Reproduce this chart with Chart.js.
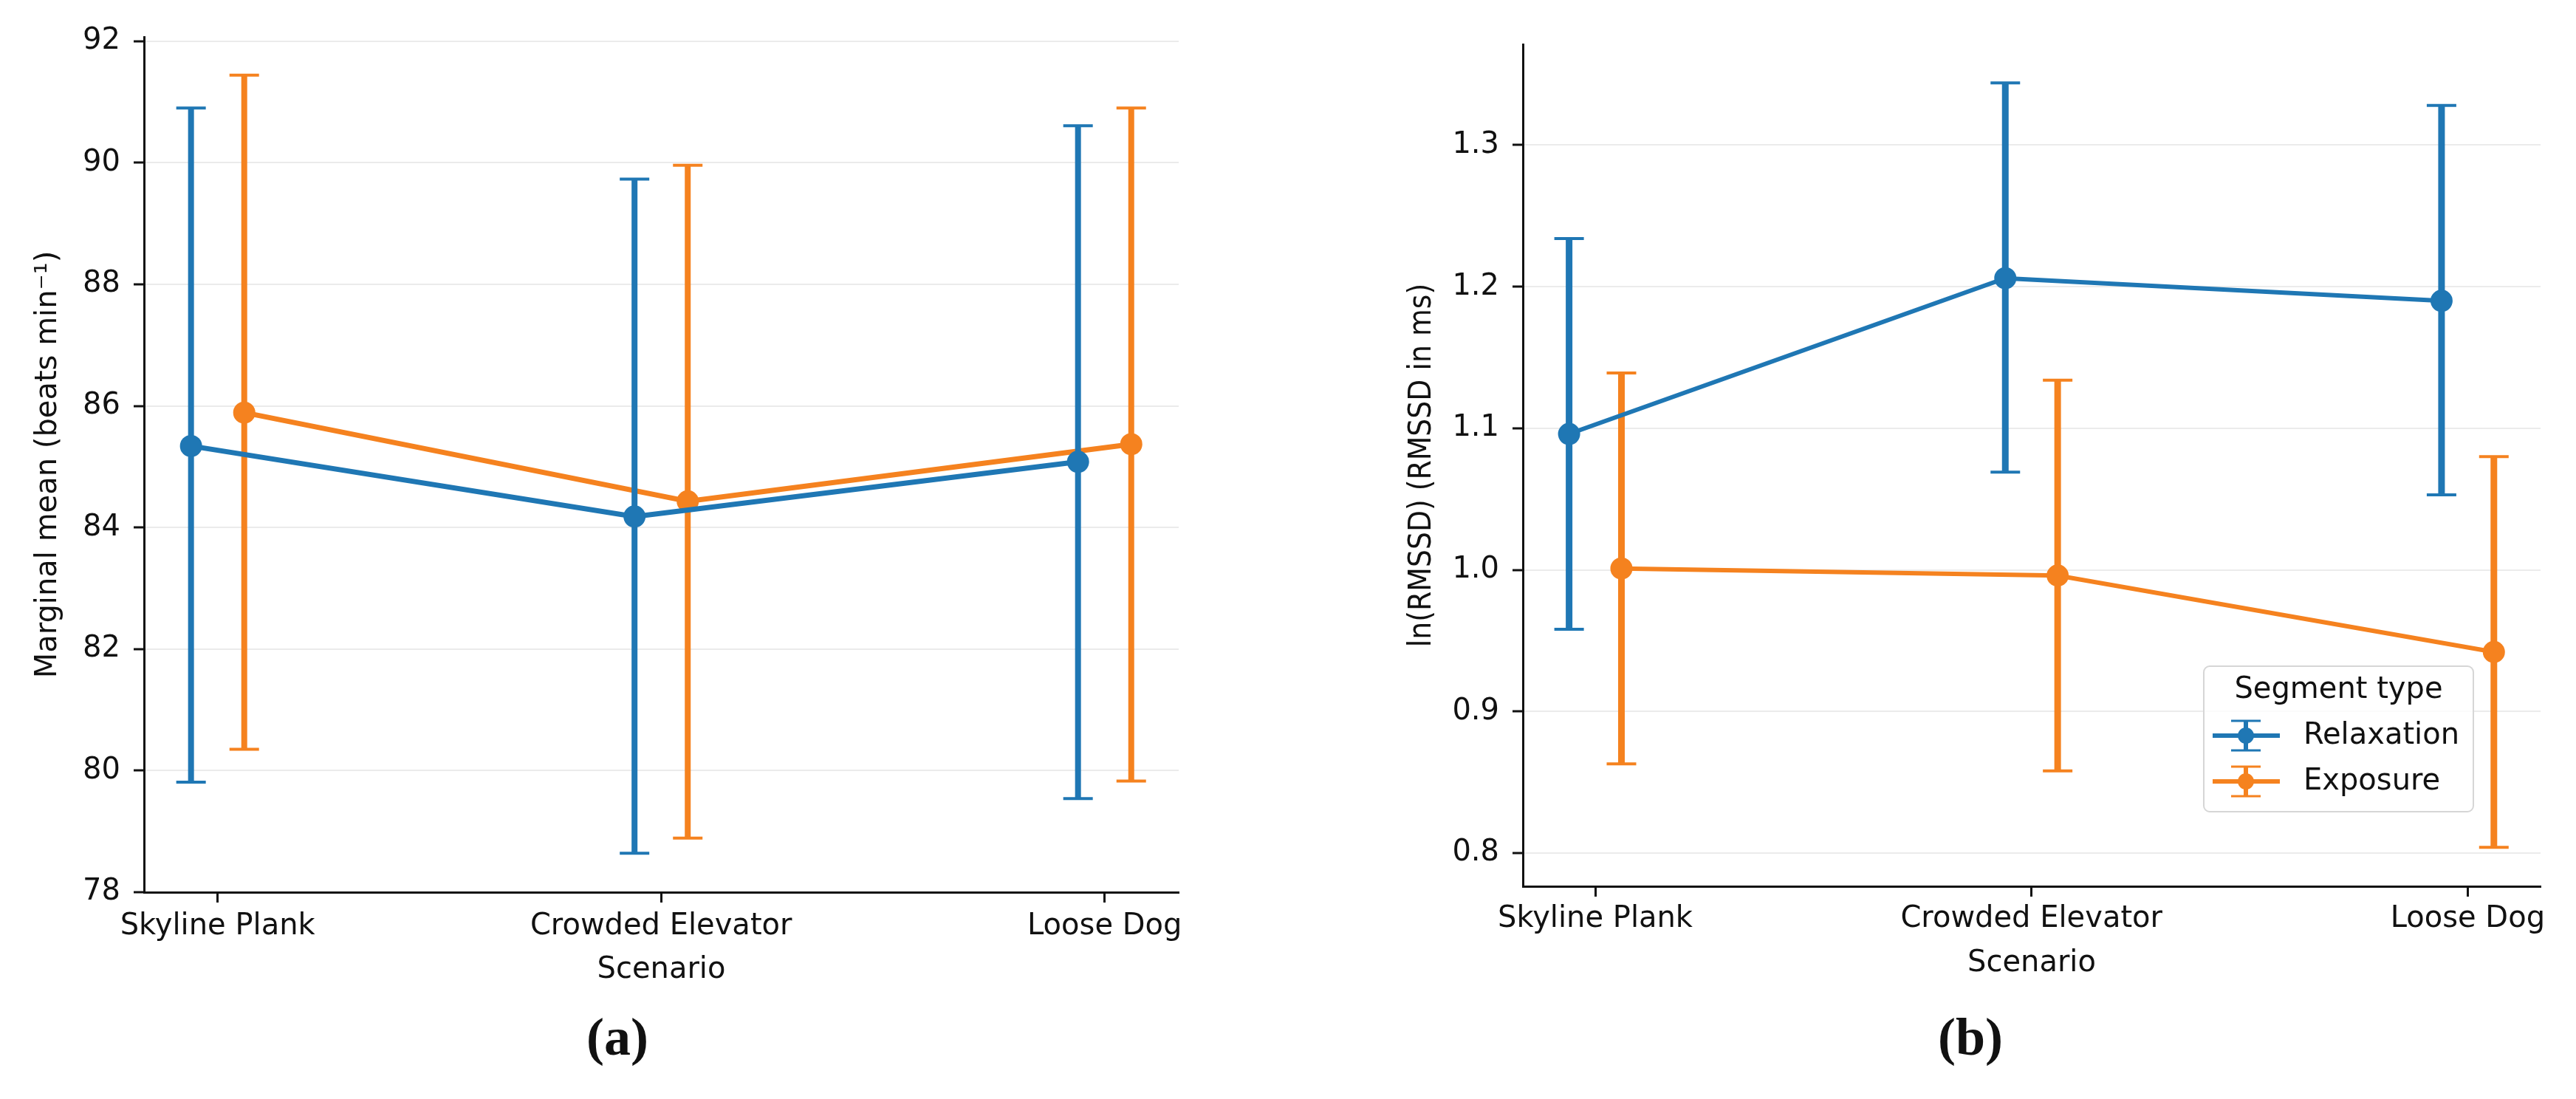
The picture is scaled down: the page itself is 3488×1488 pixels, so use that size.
<!DOCTYPE html>
<html>
<head>
<meta charset="utf-8">
<script src="https://cdn.jsdelivr.net/npm/chart.js@4.4.1/dist/chart.umd.min.js"></script>
<style>
  html, body { margin: 0; padding: 0; background: #fff; }
  #page { position: relative; width: 3488px; height: 1488px; overflow: hidden; background: #fff; }
  canvas { position: absolute; top: 0; }
  #chartA { left: 0; }
  #chartB { left: 1744px; }
  .panel {
    position: absolute; top: 1358px; width: 200px; text-align: center;
    font: bold 72px "Liberation Serif", "DejaVu Serif", serif; line-height: 92px; color: #111;
  }
</style>
</head>
<body>
<div id="page">
  <canvas id="chartA" width="1744" height="1488"></canvas>
  <canvas id="chartB" width="1744" height="1488"></canvas>
  <div class="panel" style="left: 736px;">(a)</div>
  <div class="panel" style="left: 2568px;">(b)</div>
</div>
<script>
const scenarios = ["Skyline Plank", "Crowded Elevator", "Loose Dog"];
const segmentTypes = ["Relaxation", "Exposure"];
const segmentColors = ["#1f77b4", "#f5821f"];

// (a) heart rate marginal means with 95% CI
const hrRelaxation = [85.34, 84.18, 85.08];
const hrRelaxationLow = [79.81, 78.64, 79.54];
const hrRelaxationHigh = [90.90, 89.73, 90.61];
const hrExposure = [85.89, 84.43, 85.37];
const hrExposureLow = [80.35, 78.89, 79.83];
const hrExposureHigh = [91.44, 89.96, 90.90];
const hrTicks = [78, 80, 82, 84, 86, 88, 90, 92];

// (b) ln(RMSSD) with 95% CI
const lnRelaxation = [1.096, 1.206, 1.190];
const lnRelaxationLow = [0.958, 1.069, 1.053];
const lnRelaxationHigh = [1.234, 1.344, 1.328];
const lnExposure = [1.001, 0.996, 0.942];
const lnExposureLow = [0.863, 0.858, 0.804];
const lnExposureHigh = [1.139, 1.134, 1.080];
const lnTicks = [0.8, 0.9, 1.0, 1.1, 1.2, 1.3];

const dodge = [-0.06, 0.06];
const ink = "#111";

Chart.defaults.font.family = "'DejaVu Sans', sans-serif";
Chart.defaults.font.size = 40;
Chart.defaults.color = ink;

// draw the CI whiskers under each series
const errorBars = {
  id: "errorBars",
  beforeDatasetDraw(chart, args) {
    const ds = chart.data.datasets[args.index];
    const xs = chart.scales.x, ys = chart.scales.y;
    const ctx = chart.ctx;
    ctx.save();
    ctx.strokeStyle = ds.borderColor;
    ctx.lineCap = "butt";
    ds.data.forEach((p, i) => {
      const px = xs.getPixelForValue(p.x);
      const top = ys.getPixelForValue(ds.high[i]);
      const bot = ys.getPixelForValue(ds.low[i]);
      ctx.lineWidth = ds.errWidth;
      ctx.beginPath();
      ctx.moveTo(px, top);
      ctx.lineTo(px, bot);
      ctx.stroke();
      ctx.lineWidth = ds.capWidth;
      ctx.beginPath();
      ctx.moveTo(px - 20, top); ctx.lineTo(px + 20, top);
      ctx.moveTo(px - 20, bot); ctx.lineTo(px + 20, bot);
      ctx.stroke();
    });
    ctx.restore();
  }
};

// legend box with errorbar handles, only on panel (b)
const segmentLegend = {
  id: "segmentLegend",
  afterDraw(chart) {
    const ctx = chart.ctx;
    const bx = 1240, by = 902, bw = 365, bh = 197;
    ctx.save();
    ctx.fillStyle = "rgba(255,255,255,0.8)";
    ctx.strokeStyle = "#d6d6d6";
    ctx.lineWidth = 2;
    ctx.beginPath();
    ctx.roundRect(bx, by, bw, bh, 8);
    ctx.fill();
    ctx.stroke();
    ctx.font = "40px 'DejaVu Sans', sans-serif";
    ctx.fillStyle = ink;
    ctx.textBaseline = "middle";
    ctx.textAlign = "center";
    ctx.fillText("Segment type", bx + bw / 2, 935);
    ctx.textAlign = "left";
    const rows = [996, 1058];
    chart.data.datasets.forEach((ds, k) => {
      const y = rows[k];
      ctx.strokeStyle = ds.borderColor;
      ctx.fillStyle = ds.borderColor;
      ctx.lineWidth = 6;
      ctx.beginPath();
      ctx.moveTo(1252, y); ctx.lineTo(1343, y);
      ctx.moveTo(1297, y - 20); ctx.lineTo(1297, y + 20);
      ctx.stroke();
      ctx.lineWidth = 3;
      ctx.beginPath();
      ctx.moveTo(1277, y - 20); ctx.lineTo(1317, y - 20);
      ctx.moveTo(1277, y + 20); ctx.lineTo(1317, y + 20);
      ctx.stroke();
      ctx.beginPath();
      ctx.arc(1297, y, 11, 0, 2 * Math.PI);
      ctx.fill();
      ctx.fillStyle = ink;
      ctx.fillText(ds.label, 1375, y + 1);
    });
    ctx.restore();
  }
};

function buildChart(id, opt) {
  const datasets = opt.series.map((s, k) => ({
    label: segmentTypes[k],
    data: s.mean.map((v, i) => ({ x: i + dodge[k], y: v })),
    low: s.low,
    high: s.high,
    borderColor: segmentColors[k],
    backgroundColor: segmentColors[k],
    pointBackgroundColor: segmentColors[k],
    borderWidth: opt.lineWidth,
    pointRadius: 15,
    pointBorderWidth: 0,
    errWidth: opt.errWidth,
    capWidth: 4,
    clip: false
  }));
  const plugins = [errorBars];
  if (opt.legend) plugins.push(segmentLegend);
  return new Chart(document.getElementById(id), {
    type: "line",
    data: { datasets },
    options: {
      responsive: false,
      animation: false,
      devicePixelRatio: 1,
      events: [],
      layout: { padding: { left: 0, top: opt.top, right: opt.rightPad, bottom: 0 } },
      plugins: { legend: { display: false }, tooltip: { enabled: false } },
      scales: {
        x: {
          type: "linear",
          min: -0.166,
          max: 2.167,
          afterBuildTicks: s => { s.ticks = scenarios.map((_, i) => ({ value: i })); },
          afterFit: s => { s.height = 1488 - opt.bottom; },
          ticks: {
            callback: v => scenarios[v],
            padding: opt.xTickPad,
            autoSkip: false,
            maxRotation: 0
          },
          grid: { drawOnChartArea: false, drawTicks: true, tickLength: 14, tickColor: ink, tickWidth: 3 },
          border: { color: ink, width: 3 },
          title: { display: true, text: "Scenario", padding: { top: 0, bottom: opt.xTitlePad } }
        },
        y: {
          min: opt.yMin,
          max: opt.yMax,
          afterBuildTicks: s => { s.ticks = opt.ticks.map(v => ({ value: v })); },
          afterFit: s => { s.width = opt.left; },
          ticks: { padding: 18, callback: opt.tickFormat },
          grid: { color: "#ebebeb", lineWidth: 2, drawTicks: true, tickLength: 14, tickColor: ink, tickWidth: 3 },
          border: { color: ink, width: 3 },
          title: {
            display: true,
            text: opt.yTitle,
            font: opt.yTitleFont,
            padding: { top: opt.yTitlePad, bottom: 0 }
          }
        }
      }
    },
    plugins
  });
}

buildChart("chartA", {
  series: [
    { mean: hrRelaxation, low: hrRelaxationLow, high: hrRelaxationHigh },
    { mean: hrExposure, low: hrExposureLow, high: hrExposureHigh }
  ],
  ticks: hrTicks,
  tickFormat: v => String(v),
  yMin: 78, yMax: 92.07,
  left: 195, top: 50, bottom: 1208, rightPad: 148,
  xTickPad: 9, xTitlePad: 150,
  yTitle: "Marginal mean (beats min\u207B\u00B9)",
  yTitleFont: { family: "'DejaVu Sans', sans-serif", size: 40 },
  yTitlePad: 42,
  lineWidth: 7, errWidth: 8,
  legend: false
});

buildChart("chartB", {
  series: [
    { mean: lnRelaxation, low: lnRelaxationLow, high: lnRelaxationHigh },
    { mean: lnExposure, low: lnExposureLow, high: lnExposureHigh }
  ],
  ticks: lnTicks,
  tickFormat: v => v.toFixed(1),
  yMin: 0.7765, yMax: 1.3712,
  left: 318, top: 60, bottom: 1200, rightPad: 48,
  xTickPad: 7, xTitlePad: 159,
  yTitle: "ln(RMSSD) (RMSSD in ms)",
  yTitleFont: { family: "'DejaVu Sans Condensed', 'Liberation Sans Narrow', sans-serif", size: 42 },
  yTitlePad: 157,
  lineWidth: 6, errWidth: 9,
  legend: true
});
</script>
</body>
</html>
